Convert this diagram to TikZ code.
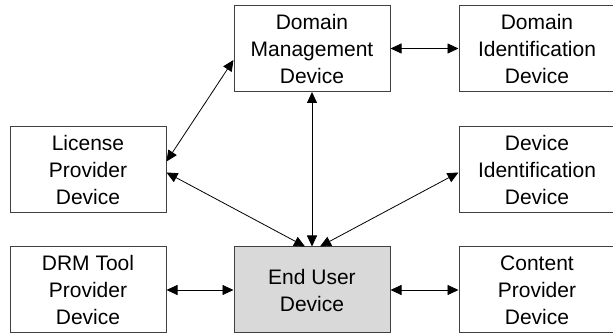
\documentclass[tikz,border=0pt]{standalone}
\usepackage{fontspec}
\setmainfont{Liberation Sans}
\usetikzlibrary{arrows.meta}
\definecolor{boxline}{gray}{0.25}
\definecolor{userfill}{gray}{0.85}
\tikzset{
  device/.style={draw=boxline, line width=1pt, minimum width=156pt, minimum height=86pt,
    align=center, inner sep=0pt, font=\fontsize{21}{27}\selectfont},
  link/.style={line width=0.8pt, {Triangle[length=11pt,width=10pt]}-{Triangle[length=11pt,width=10pt]}}
}
\begin{document}
\begin{tikzpicture}[x=1pt,y=-1pt]
\useasboundingbox (0,0) rectangle (613,336);
\clip (0,0) rectangle (613,336);
% boxes, three columns by three rows
\node[device] (dm)  at (312,48.5) {Domain\\Management\\Device};
\node[device] (did) at (537,48.5) {Domain\\Identification\\Device};
\node[device] (lp)  at (88,169.5) {License\\Provider\\Device};
\node[device] (devid) at (537,169.5) {Device\\Identification\\Device};
\node[device] (drm) at (88,290) {DRM Tool\\Provider\\Device};
\node[device, fill=userfill] (eu) at (312,290) {End User\\Device};
\node[device] (cp)  at (537,290) {Content\\Provider\\Device};
% connectors
\draw[link] (dm.east) -- (did.west);
\draw[link] ([yshift=-11.5pt]dm.west) -- ([yshift=8pt]lp.east);
\draw[link] ([yshift=-3pt]lp.east) -- ([xshift=-7pt]eu.north);
\draw[link] ([yshift=-3pt]devid.west) -- ([xshift=8pt]eu.north);
\draw[link] (dm.south) -- (eu.north);
\draw[link] (drm.east) -- (eu.west);
\draw[link] (eu.east) -- (cp.west);
\end{tikzpicture}
\end{document}
